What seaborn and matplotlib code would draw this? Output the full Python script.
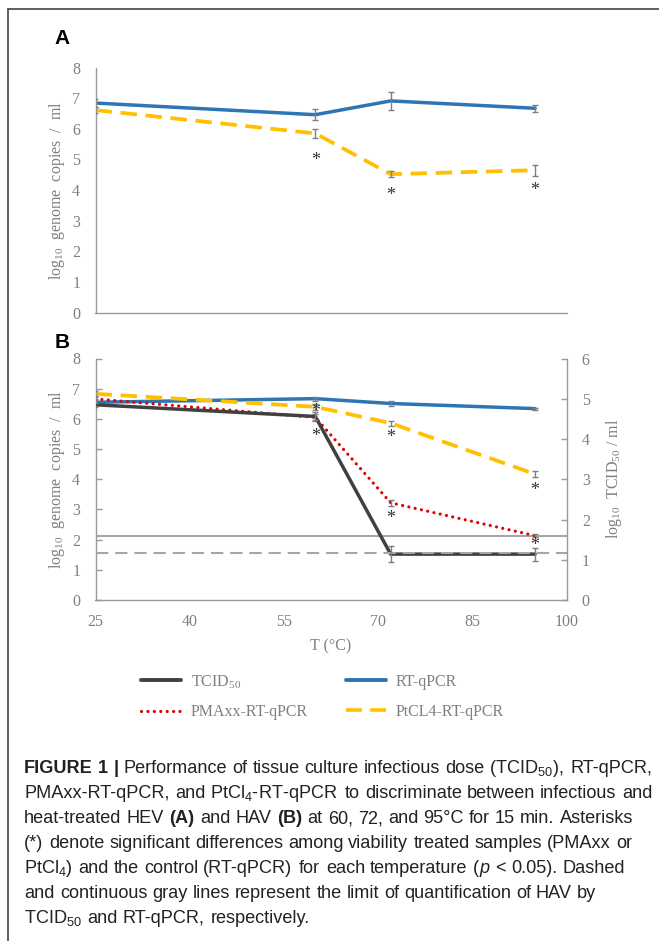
import re
import numpy as np
import pandas as pd
import matplotlib
matplotlib.use("Agg")
import matplotlib.pyplot as plt
import seaborn as sns
from matplotlib.lines import Line2D

# ---------------- data ----------------
temps = [25, 60, 72, 95]

# Panel A (HEV)
a_rtqpcr = [6.84, 6.46, 6.91, 6.67]
a_rtqpcr_sd = [0.12, 0.18, 0.30, 0.12]
a_ptcl4 = [6.61, 5.85, 4.52, 4.65]
a_ptcl4_sd = [0.10, 0.15, 0.10, 0.18]
a_star_x = [60, 72, 95]
a_star_y = [5.07, 3.93, 4.10]

# Panel B (HAV)
b_rtqpcr = [6.55, 6.67, 6.51, 6.34]
b_rtqpcr_sd = [0.10, 0.07, 0.08, 0.03]
b_ptcl4 = [6.83, 6.40, 5.86, 4.17]
b_ptcl4_sd = [0.08, 0.10, 0.08, 0.10]
b_pmaxx = [6.66, 6.05, 3.22, 2.13]
b_pmaxx_sd = [0.05, 0.12, 0.10, 0.05]
b_tcid50 = [4.85, 4.56, 1.14, 1.14]      # right axis (log10 TCID50/ml)
b_tcid50_sd = [0.05, 0.10, 0.20, 0.16]
b_star_x = [60, 60, 72, 72, 95, 95]
b_star_y = [6.36, 5.53, 5.48, 2.82, 3.74, 1.90]
loq_rtqpcr = 2.13    # left axis
loq_tcid50 = 1.16    # right axis

x_ticks = [25, 40, 55, 70, 85, 100]
left_ticks = [0, 1, 2, 3, 4, 5, 6, 7, 8]
right_ticks = [0, 1, 2, 3, 4, 5, 6]

legend_labels = ["TCID$_{\\mathregular{50}}$", "PMAxx-RT-qPCR", "RT-qPCR", "PtCL4-RT-qPCR"]

caption_lines = [
    [("FIGURE 1 |", "bold", "normal"),
     (" Performance of tissue culture infectious dose (TCID$_{\\mathregular{50}}$), RT-qPCR,", "normal", "normal")],
    [("PMAxx-RT-qPCR, and PtCl$_{\\mathregular{4}}$-RT-qPCR to discriminate between infectious and", "normal", "normal")],
    [("heat-treated HEV ", "normal", "normal"), ("(A)", "bold", "normal"),
     (" and HAV ", "normal", "normal"), ("(B)", "bold", "normal"),
     (" at 60, 72, and 95°C for 15 min. Asterisks", "normal", "normal")],
    [("(*) denote significant differences among viability treated samples (PMAxx or", "normal", "normal")],
    [("PtCl$_{\\mathregular{4}}$) and the control (RT-qPCR) for each temperature (", "normal", "normal"),
     ("p", "normal", "italic"), (" < 0.05). Dashed", "normal", "normal")],
    [("and continuous gray lines represent the limit of quantification of HAV by", "normal", "normal")],
    [("TCID$_{\\mathregular{50}}$ and RT-qPCR, respectively.", "normal", "normal")],
]

# ---------------- style ----------------
BLUE = "#2E75B6"
YELLOW = "#FFC000"
RED = "#E00000"
DARK = "#404040"
LOQ_GRAY = "#A6A6A6"
AX_GRAY = "#9A9A9A"
TXT_GRAY = "#7F7F7F"

sns.set_theme(style="white")
plt.rcParams["font.family"] = ["Liberation Serif", "DejaVu Serif"]

W, H = 659, 941
fig = plt.figure(figsize=(W / 100, H / 100), dpi=100)

def fx(px):
    return px / W

def fy(py):
    return 1 - py / H

ax_a = fig.add_axes([fx(95.5), fy(312.7), (566.5 - 95.5) / W, (312.7 - 67.5) / H])
ax_b = fig.add_axes([fx(95.5), fy(600), (566.5 - 95.5) / W, (600 - 358.5) / H])
ax_b2 = ax_b.twinx()

TS = 11.5

def style_axis(ax, show_xlabels):
    ax.set_xlim(25, 100)
    ax.set_ylim(0, 8)
    ax.set_xticks(x_ticks)
    ax.set_yticks(left_ticks)
    for s in ["top", "right"]:
        ax.spines[s].set_visible(False)
    for s in ["left", "bottom"]:
        ax.spines[s].set_color(AX_GRAY)
        ax.spines[s].set_linewidth(1.0)
    ax.tick_params(axis="x", direction="out", length=4, width=1, color=AX_GRAY,
                   labelsize=TS, labelcolor=TXT_GRAY, pad=6, labelbottom=show_xlabels)
    ax.tick_params(axis="y", direction="in", length=4, width=1, color=AX_GRAY,
                   labelsize=TS, labelcolor=TXT_GRAY, pad=11)
    ax.set_ylabel("log$_{\\mathregular{10}}$  genome  copies  /  ml", fontsize=TS,
                  color=TXT_GRAY, labelpad=4)
    ax.grid(False)

def series(ax, y, sd, color, lw, ls, z=2, capstyle=None):
    df = pd.DataFrame({"T": temps, "v": y})
    kws = dict(color=color, lw=lw, linestyle=ls, zorder=z)
    if capstyle:
        kws["dash_capstyle"] = capstyle
    sns.lineplot(data=df, x="T", y="v", ax=ax, sort=False, errorbar=None, **kws)
    ax.errorbar(temps, y, yerr=sd, fmt="none", ecolor="#7F7F7F", elinewidth=1,
                capsize=2.5, capthick=1, zorder=z + 2)

DASH_Y = (0, (4.4, 2.3))
DOT_R = (0, (0.01, 2.0))

# ---------------- panel A ----------------
series(ax_a, a_rtqpcr, a_rtqpcr_sd, BLUE, 2.5, "-")
series(ax_a, a_ptcl4, a_ptcl4_sd, YELLOW, 2.7, DASH_Y)
style_axis(ax_a, False)
ax_a.set_xlabel("")
for x, y in zip(a_star_x, a_star_y):
    ax_a.annotate("*", xy=(x, y), xytext=(0, -5.5), textcoords="offset points",
                  ha="center", va="baseline", fontsize=13, color="#333333")

# ---------------- panel B ----------------
series(ax_b, b_rtqpcr, b_rtqpcr_sd, BLUE, 2.5, "-")
series(ax_b, b_ptcl4, b_ptcl4_sd, YELLOW, 2.7, DASH_Y)
series(ax_b, b_pmaxx, b_pmaxx_sd, RED, 2.3, DOT_R, capstyle="round")
ax_b.axhline(loq_rtqpcr, color=LOQ_GRAY, lw=1.5, zorder=1)
style_axis(ax_b, True)
ax_b.set_xlabel("T (°C)", fontsize=TS, color=TXT_GRAY, labelpad=6)

series(ax_b2, b_tcid50, b_tcid50_sd, DARK, 2.5, "-", z=3)
ax_b2.axhline(loq_tcid50, color=LOQ_GRAY, lw=1.5, linestyle=(0, (5.9, 3.3)), zorder=4)
ax_b2.set_ylim(0, 6)
ax_b2.set_yticks(right_ticks)
for s in ["top", "left", "bottom"]:
    ax_b2.spines[s].set_visible(False)
ax_b2.spines["right"].set_color(AX_GRAY)
ax_b2.spines["right"].set_linewidth(1.0)
ax_b2.tick_params(axis="y", direction="in", length=4, width=1, color=AX_GRAY,
                  labelsize=TS, labelcolor=TXT_GRAY, pad=11)
ax_b2.set_ylabel("log$_{\\mathregular{10}}$  TCID$_{\\mathregular{50}}$ / ml", fontsize=TS,
                 color=TXT_GRAY, labelpad=10)
ax_b2.grid(False)
for x, y in zip(b_star_x, b_star_y):
    ax_b2.annotate("*", xy=(x, y), xycoords=ax_b.transData, xytext=(0, -5.5),
                   textcoords="offset points", ha="center", va="baseline",
                   fontsize=13, color="#333333", zorder=6)

# ---------------- legend ----------------
handles = [
    Line2D([], [], color=DARK, lw=2.8),
    Line2D([], [], color=RED, lw=2.3, linestyle=DOT_R, dash_capstyle="round"),
    Line2D([], [], color=BLUE, lw=2.8),
    Line2D([], [], color=YELLOW, lw=2.6, linestyle=DASH_Y),
]
fig.legend(handles, legend_labels, loc="upper left", bbox_to_anchor=(fx(141), fy(673)),
           ncol=2, frameon=False, fontsize=TS, labelcolor=TXT_GRAY, handlelength=2.5,
           handletextpad=0.6, columnspacing=2.4, labelspacing=0.85, borderpad=0,
           borderaxespad=0)

# ---------------- panel letters & frame ----------------
fig.text(fx(62), fy(39), "A", fontsize=15, fontweight="bold", family="Liberation Sans",
         ha="center", va="center", color="black")
fig.text(fx(62), fy(343), "B", fontsize=15, fontweight="bold", family="Liberation Sans",
         ha="center", va="center", color="black")
fig.add_artist(Line2D([fx(8), fx(8)], [0, fy(9)], transform=fig.transFigure,
                      color="#444444", lw=1.2))
fig.add_artist(Line2D([fx(8), 1], [fy(9), fy(9)], transform=fig.transFigure,
                      color="#444444", lw=1.2))

# ---------------- caption (one text per word, spaced by run metrics) ----------------
renderer = fig.canvas.get_renderer()
CAP_FONT = "Liberation Sans"
CAP_COLOR = "#222222"

def measure(s, size, weight, style):
    t = fig.text(0, 0, s, fontsize=size, fontweight=weight, fontstyle=style,
                 family=CAP_FONT)
    w = t.get_window_extent(renderer=renderer).width
    t.remove()
    return w

def draw_line(runs, x0, base_y, size, draw=True):
    x = x0
    space = 0.278 * size * 100 / 72
    for text, weight, style in runs:
        lead = len(text) - len(text.lstrip(" "))
        trail = len(text) - len(text.rstrip(" "))
        core = text.strip(" ")
        x += lead * space
        if core:
            words = core.split(" ")
            if draw:
                for k, wd in enumerate(words):
                    off = 0.0
                    if k > 0:
                        off = measure(" ".join(words[:k]), size, weight, style) + space + 0.5
                    fig.text(fx(x + off), fy(base_y), wd, fontsize=size, fontweight=weight,
                             fontstyle=style, family=CAP_FONT, color=CAP_COLOR,
                             ha="left", va="baseline")
            x += measure(core, size, weight, style) + 0.5
        x += trail * space
    return x - x0

test = 12.0
wtest = draw_line(caption_lines[1], 24, 800, test, draw=False)
cap_size = test * (628 / wtest)

for i, runs in enumerate(caption_lines):
    draw_line(runs, 24, 773 + 25 * i, cap_size)

fig.savefig("out.png", dpi=100)
